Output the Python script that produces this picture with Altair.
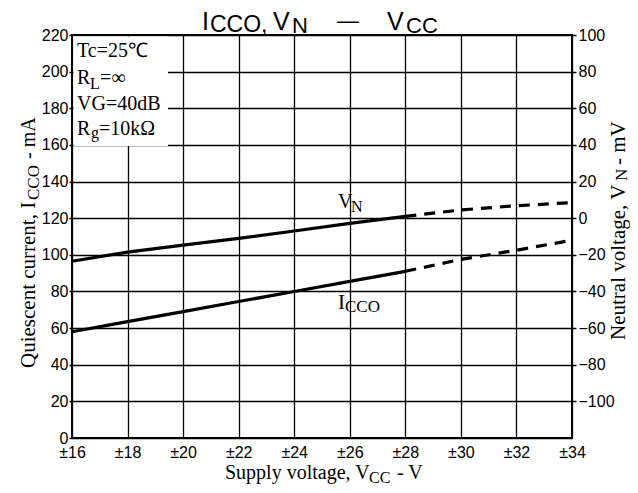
import altair as alt
import pandas as pd

# ---- data ----
vcc_solid = [16, 18, 20, 22, 24, 26, 28]
icco_solid = [58, 63.5, 69, 74.5, 80, 85.5, 91]          # mA (left axis)
vn_solid = [-23.5, -18.5, -14.7, -11, -7, -2.8, 1]      # mV (right axis)
vcc_dash = [28, 30, 32, 34]
icco_dash = [91, 97.5, 102.5, 108]
vn_dash = [1, 4.5, 6.8, 8.5]

x_ticks = [16, 18, 20, 22, 24, 26, 28, 30, 32, 34]
left_ticks = [0, 20, 40, 60, 80, 100, 120, 140, 160, 180, 200, 220]
right_ticks = [-100, -80, -60, -40, -20, 0, 20, 40, 60, 80, 100]

W, H = 500, 403
SANS = "Liberation Sans"
SERIF = "Liberation Serif"

x_enc = alt.X(
    "vcc:Q",
    scale=alt.Scale(domain=[16, 34], nice=False, zero=False),
    axis=alt.Axis(
        values=x_ticks, labelExpr="'±' + datum.value", grid=True,
        gridColor="black", gridWidth=1.3, gridOpacity=1,
        ticks=False, tickSize=0, domain=False, labelPadding=6,
        labelFont=SANS, labelFontSize=16, labelColor="black",
        labelFlush=False, labelOverlap=False, title=None,
    ),
)

left_scale = alt.Scale(domain=[0, 220], nice=False, zero=False)
left_axis = alt.Axis(
    orient="left", values=left_ticks, grid=True, gridColor="black",
    gridWidth=1.3, gridOpacity=1, domain=False, ticks=True, tickSize=3,
    tickColor="black", tickWidth=1.5, labelPadding=1, labelFont=SANS,
    labelFontSize=16, labelColor="black", labelFlush=False,
    labelOverlap=False, title=None,
)
right_scale = alt.Scale(domain=[-120, 100], nice=False, zero=False)
right_axis = alt.Axis(
    orient="right", values=right_ticks, grid=False, domain=False,
    ticks=True, tickSize=4, tickColor="black", tickWidth=1.5,
    labelPadding=2, labelFont=SANS, labelFontSize=16, labelColor="black",
    labelFlush=False, labelOverlap=False,
    labelExpr="datum.value < 0 ? '\u2212' + abs(datum.value) : '' + datum.value",
    title=None,
)

icco_s = pd.DataFrame({"vcc": vcc_solid, "val": icco_solid})
icco_d = pd.DataFrame({"vcc": vcc_dash, "val": icco_dash})
vn_s = pd.DataFrame({"vcc": vcc_solid, "val": vn_solid})
vn_d = pd.DataFrame({"vcc": vcc_dash, "val": vn_dash})
one = pd.DataFrame({"k": [0]})


def line(df, scale, axis, dashed):
    kw = dict(color="black", strokeWidth=3.2, strokeCap="butt")
    if dashed:
        kw["strokeDash"] = [11, 8]
    return alt.Chart(df).mark_line(**kw).encode(
        x=x_enc, y=alt.Y("val:Q", scale=scale, axis=axis)
    )


def txt(s, x, y, size, font=SERIF, angle=0):
    return alt.Chart(one).mark_text(
        text=s, fontSize=size, font=font, angle=angle, align="left",
        baseline="alphabetic", color="black",
    ).encode(x=alt.value(x), y=alt.value(y))


box = alt.Chart(one).mark_rect(fill="white", stroke=None).encode(
    x=alt.value(1.5), x2=alt.value(96), y=alt.value(1.5), y2=alt.value(111)
)

texts = [
    # title
    txt("I", 130, -5, 25, SANS),
    txt("CCO,", 138, -3.5, 23, SANS),
    txt("V", 201, -5, 25, SANS),
    txt("N", 220, -2, 22, SANS),
    txt("\u2014", 265, -7, 22, SANS),
    txt("V", 315, -5, 25, SANS),
    txt("CC", 334, -2, 22, SANS),
    # condition box
    txt("Tc=25\u2103", 5, 22, 20),
    txt("R", 5, 49, 20),
    txt("L", 18, 53.5, 16),
    txt("=\u221e", 28, 49, 20),
    txt("VG=40dB", 5, 75, 20),
    txt("R", 5, 100, 20),
    txt("g", 19, 103, 16),
    txt("=10k\u03a9", 27, 100, 20),
    # curve labels
    txt("V", 266, 173, 20),
    txt("N", 279, 177, 16),
    txt("I", 266, 274, 21),
    txt("CCO", 273, 277, 17),
    # x axis title
    txt("Supply voltage, V", 153, 444, 20),
    txt("CC", 297, 447.5, 16),
    txt("- V", 325, 444, 20),
    # left axis title
    txt("Quiescent current, I", -37, 333, 21, angle=270),
    txt("CCO", -33, 165, 17, angle=270),
    txt("- mA", -37, 124, 20, angle=270),
    # right axis title
    txt("Neutral voltage, V", 553, 305, 21, angle=270),
    txt("N", 555, 146, 17, angle=270),
    txt("- mV", 553, 130, 21, angle=270),
]

left_layer = alt.layer(
    box,
    line(icco_s, left_scale, left_axis, False),
    line(icco_d, left_scale, left_axis, True),
    *texts,
)
right_layer = alt.layer(
    line(vn_s, right_scale, right_axis, False),
    line(vn_d, right_scale, right_axis, True),
)

chart = (
    alt.layer(left_layer, right_layer)
    .resolve_scale(y="independent")
    .properties(
        width=W, height=H, autosize="none",
        padding={"left": 64, "top": 27, "right": 58, "bottom": 47},
        background="white",
    )
    .configure_view(stroke="black", strokeWidth=2)
)

chart.save("out.html", embed_options={"renderer": "svg", "actions": False})
